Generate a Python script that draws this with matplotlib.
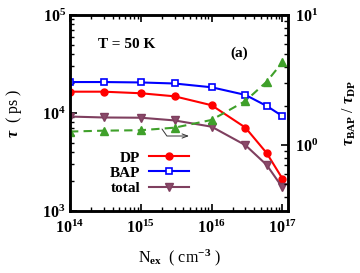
import matplotlib
matplotlib.use("Agg")
import matplotlib.pyplot as plt
import numpy as np

plt.rcParams['font.family'] = 'Liberation Serif'
plt.rcParams['font.weight'] = 'bold'
plt.rcParams['mathtext.fontset'] = 'custom'
plt.rcParams['mathtext.rm'] = 'Liberation Serif:bold'
plt.rcParams['mathtext.bf'] = 'Liberation Serif:bold'
plt.rcParams['mathtext.it'] = 'Liberation Serif:italic:bold'

# excitation density (cm^-3)
n_ex = np.array([1e14, 3e14, 1e15, 3e15, 1e16, 3e16, 6e16, 1e17])
# spin relaxation times (ps)
tau_dp = np.array([16500, 16500, 15900, 14800, 12000, 7100, 3900, 2140])
tau_bap = np.array([20700, 20700, 20500, 20000, 18300, 15300, 11800, 9300])
tau_total = np.array([9200, 9000, 8950, 8400, 7250, 4700, 2950, 1740])
# ratio tau_BAP / tau_DP (right axis)
ratio = np.array([1.27, 1.29, 1.30, 1.36, 1.56, 2.18, 3.07, 4.33])

fig = plt.figure(figsize=(3.6, 2.73), dpi=100)
ax = fig.add_axes([70/360, 1-211/273, 218/360, 196/273])
ax2 = ax.twinx()

ax.plot(n_ex, tau_dp, '-o', color='#ff0000', lw=1.5, ms=5, label='DP')
ax.plot(n_ex, tau_bap, '-s', color='#0000ff', lw=1.5, ms=5, mfc='white', mew=1.2, label='BAP')
ax.plot(n_ex, tau_total, '-v', color='#7f3f5f', lw=1.5, ms=6, mec='#7f3f5f', mfc='#8a4a6a', label='total')
ax2.plot(n_ex, ratio, '--^', color='#3fa02a', lw=1.5, ms=6, dashes=(4, 2.5))

ax.set_xscale('log')
ax.set_yscale('log')
ax2.set_yscale('log')
ax.set_xlim(1e14, 1.2e17)
ax.set_ylim(1e3, 1e5)
ax2.set_ylim(0.311, 10)

for a in (ax, ax2):
    a.tick_params(which='both', direction='in', labelsize=11.5)
    a.tick_params(which='major', length=5, width=1.2)
    a.tick_params(which='minor', length=3, width=1)
    for s in a.spines.values():
        s.set_linewidth(1.8)
ax.tick_params(axis='x', which='both', top=True, pad=6)
ax.tick_params(axis='y', which='both', right=False, pad=3)
ax2.tick_params(axis='y', pad=5)

ax.set_xlabel(r'N$_{\rm ex}$  ( cm$^{-3}$ )', fontsize=11.5, labelpad=8)
ax.set_ylabel(r'$\tau$  ( ps )', fontsize=11.5, labelpad=13)
ax2.set_ylabel(r'$\tau_{\rm BAP}$ / $\tau_{\rm DP}$', fontsize=11.5, labelpad=16)

ax.text(0.26, 0.85, 'T = 50 K', transform=ax.transAxes, ha='center', va='center', fontsize=11)
ax.text(0.775, 0.805, '(a)', transform=ax.transAxes, ha='center', va='center', fontsize=11)

ax2.annotate('', xy=((189-70)/218, (211-136)/196), xytext=((162-70)/218, (211-129)/196),
             xycoords='axes fraction', textcoords='axes fraction',
             arrowprops=dict(arrowstyle='->,head_length=0.4,head_width=0.15', color='#333333', lw=0.7,
                             connectionstyle='angle,angleA=-55,angleB=0,rad=0', shrinkA=0, shrinkB=0))

ax.legend(loc='center right', bbox_to_anchor=(0.546, 0.194), frameon=False, markerfirst=False,
          fontsize=11, handlelength=2.6, handletextpad=0.6, labelspacing=0.1,
          borderpad=0, borderaxespad=0)

fig.savefig('out.png', dpi=100)
